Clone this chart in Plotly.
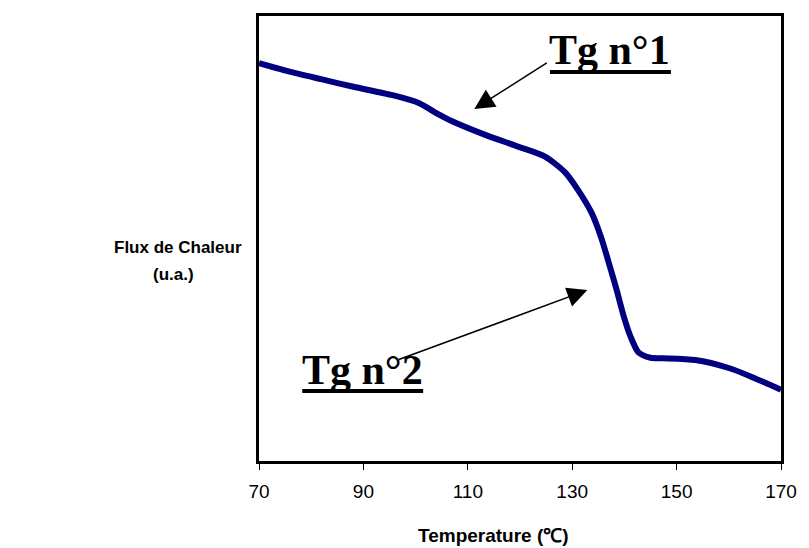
import plotly.graph_objects as go

# Data (arbitrary units for heat flow)
temperature = [70.0, 75.5, 81.9, 88.1, 95.6, 100.7, 103.8, 106.9, 113.1, 119.5, 124.8,
               128.6, 131.0, 133.7, 135.5, 137.0, 138.5, 139.9, 141.2, 142.7,
               145.0, 147.4, 153.6, 160.0, 164.4, 170.0]
heat_flow = [89.4, 87.6, 85.8, 84.1, 82.2, 80.4, 78.3, 76.4, 73.4, 70.7, 68.4,
             64.9, 61.1, 55.8, 50.4, 44.6, 38.5, 32.4, 27.9, 24.4,
             23.2, 23.1, 22.7, 20.9, 18.9, 16.0]
x_ticks = [70, 90, 110, 130, 150, 170]

FONT = "Arial, Liberation Sans, sans-serif"
SERIF = "Times New Roman, Liberation Serif, serif"

fig = go.Figure()
fig.add_trace(go.Scatter(
    x=temperature, y=heat_flow, mode="lines",
    line=dict(color="#000080", width=6, shape="spline", smoothing=0.7),
    showlegend=False, hoverinfo="skip"))

fig.update_layout(
    width=809, height=548,
    margin=dict(l=259, r=19, t=16, b=87),
    paper_bgcolor="white", plot_bgcolor="white",
    xaxis=dict(range=[70, 170], tickvals=x_ticks, ticktext=[str(t) for t in x_ticks],
               ticks="outside", ticklen=6, tickwidth=1, tickcolor="black",
               showline=True, linewidth=3, linecolor="black", mirror=True,
               showgrid=False, zeroline=False, ticklabelstandoff=5,
               tickfont=dict(family=FONT, size=19, color="black")),
    yaxis=dict(range=[0, 100], showticklabels=False, ticks="",
               showline=True, linewidth=3, linecolor="black", mirror=True,
               showgrid=False, zeroline=False),
)

annotations = [
    dict(text="<b>Temperature (℃)</b>", xref="paper", yref="paper", x=0.45, y=-0.1685,
         xanchor="center", yanchor="middle", showarrow=False,
         font=dict(family=FONT, size=19, color="black")),
    dict(text="<b>Flux de Chaleur</b>", xref="paper", yref="paper", x=-0.1544, y=0.4787,
         xanchor="center", yanchor="middle", showarrow=False,
         font=dict(family=FONT, size=17, color="black")),
    dict(text="<b>(u.a.)</b>", xref="paper", yref="paper", x=-0.1638, y=0.418,
         xanchor="center", yanchor="middle", showarrow=False,
         font=dict(family=FONT, size=17, color="black")),
    dict(text="<b>Tg n°1</b>", xref="paper", yref="paper", x=0.6723, y=0.9236,
         xanchor="center", yanchor="middle", showarrow=False,
         font=dict(family=SERIF, size=42, color="black")),
    dict(text="<b>Tg n°2</b>", xref="paper", yref="paper", x=0.1977, y=0.2045,
         xanchor="center", yanchor="middle", showarrow=False,
         font=dict(family=SERIF, size=42, color="black")),
    dict(text="", x=111.24, y=79.1, xref="x", yref="y", ax=74, ay=-47,
         showarrow=True, arrowhead=2, arrowsize=2.67, arrowwidth=1.5, arrowcolor="black"),
    dict(text="", x=132.9, y=38.4, xref="x", yref="y", ax=-190, ay=70,
         showarrow=True, arrowhead=2, arrowsize=2.67, arrowwidth=1.5, arrowcolor="black"),
]
fig.update_layout(annotations=annotations)

fig.add_shape(type="line", xref="paper", yref="paper", x0=0.5574, x1=0.7891, y0=0.8742, y1=0.8742,
              line=dict(color="black", width=4))
fig.add_shape(type="line", xref="paper", yref="paper", x0=0.0829, x1=0.3145, y0=0.1573, y1=0.1573,
              line=dict(color="black", width=4))

fig.write_html("out.html")
